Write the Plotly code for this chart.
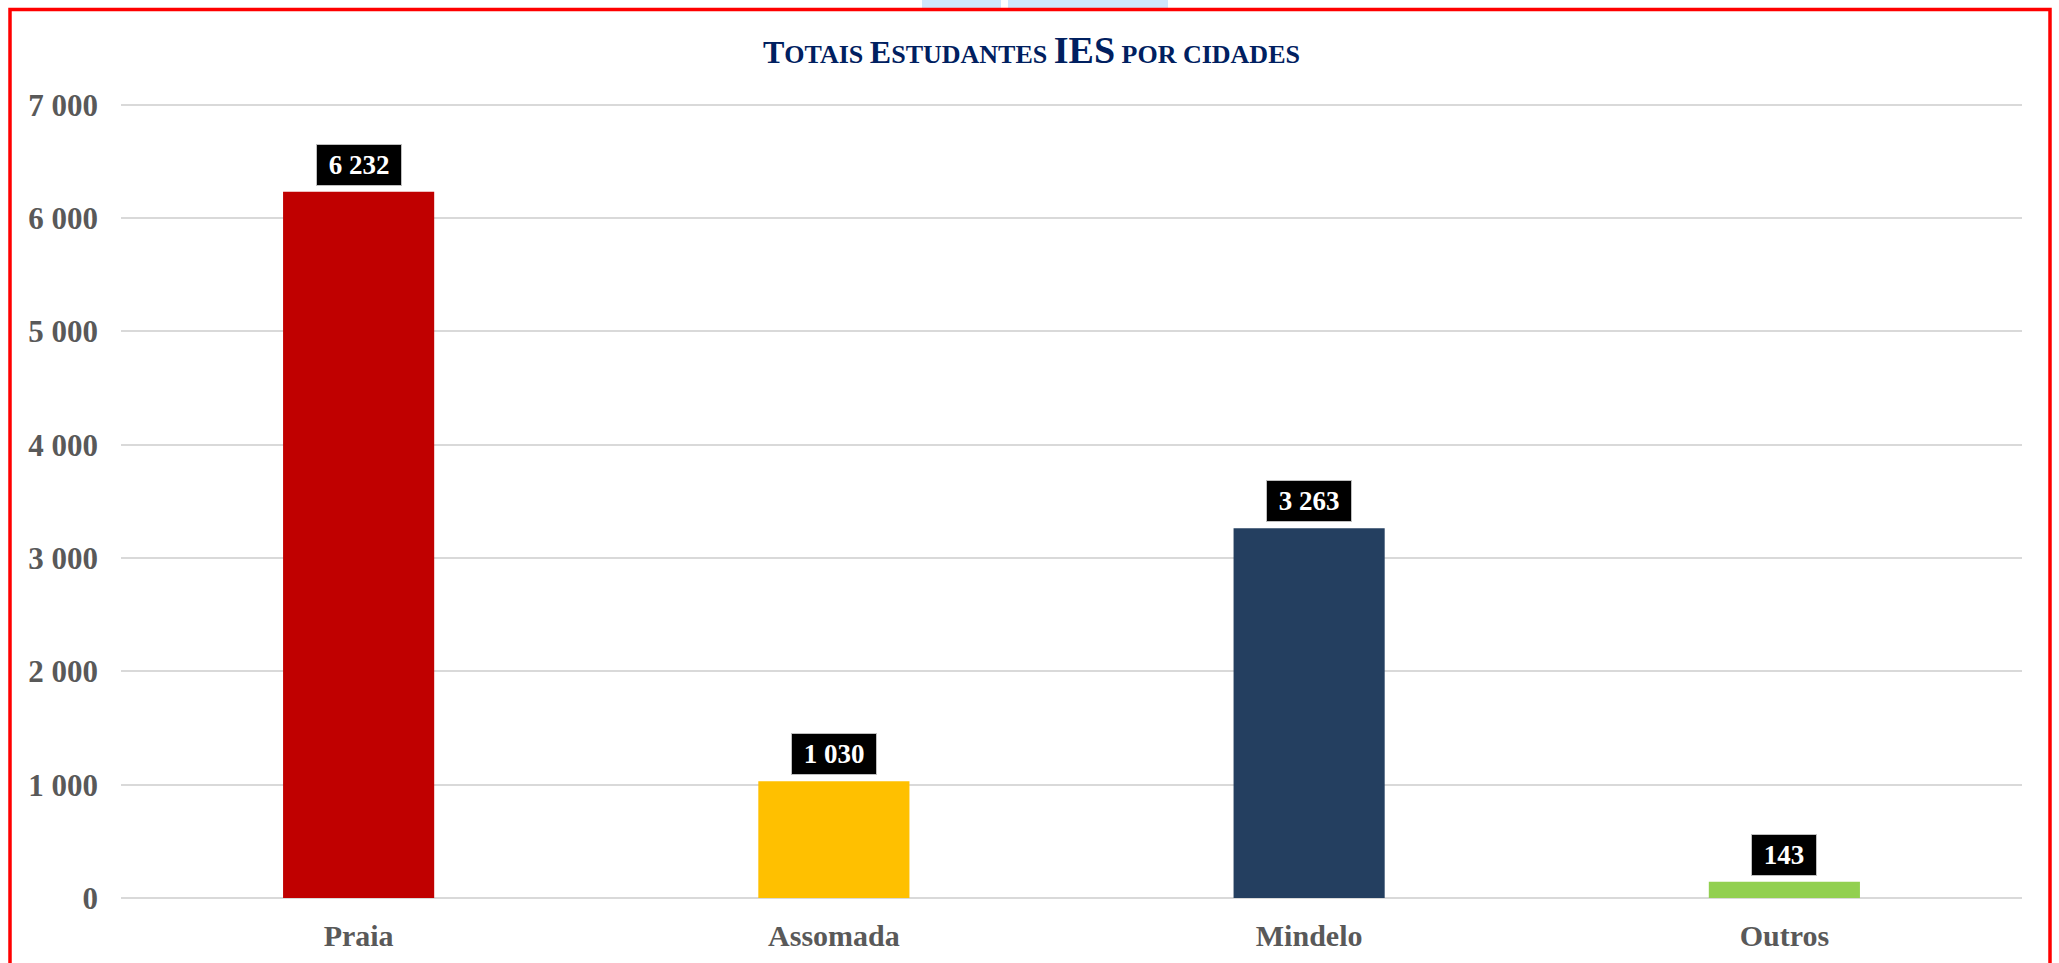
import plotly.graph_objects as go

categories = ["Praia", "Assomada", "Mindelo", "Outros"]
values = [6232, 1030, 3263, 143]
bar_colors = ["#C00000", "#FFC000", "#243F60", "#92D050"]
y_ticks = [0, 1000, 2000, 3000, 4000, 5000, 6000, 7000]

FONT = "Liberation Serif"
W, H = 2059, 963
L, R, T, B = 121, 37, 99, 65
PW, PH = W - L - R, H - T - B


def px_to_paper_x(px):
    return (px - L) / PW


def px_to_paper_y(py):
    return (H - B - py) / PH


fig = go.Figure()
fig.add_trace(go.Bar(
    x=categories,
    y=values,
    marker=dict(color=bar_colors, line=dict(width=0)),
    hoverinfo="skip",
))

annotations = []
for c, v in zip(categories, values):
    label = f"{v:,}".replace(",", " ")
    annotations.append(dict(
        x=c, y=v, xref="x", yref="y",
        text="\u00a0" + label + "\u00a0",
        showarrow=False, yanchor="bottom", yshift=6,
        font=dict(family=FONT, size=27, color="white", weight="bold"),
        bgcolor="black", bordercolor="#bfbfbf", borderwidth=1, borderpad=5,
    ))

title_text = (
    '<span style="font-size:32px">T</span>'
    '<span style="font-size:26px">OTAIS </span>'
    '<span style="font-size:32px">E</span>'
    '<span style="font-size:26px">STUDANTES </span>'
    '<span style="font-size:38px">IES</span>'
    '<span style="font-size:26px"> POR CIDADES</span>'
)
annotations.append(dict(
    text="<b>" + title_text + "</b>",
    xref="paper", yref="paper",
    x=px_to_paper_x(1031), y=px_to_paper_y(50),
    xanchor="center", yanchor="middle", showarrow=False,
    font=dict(family=FONT, size=32, color="#002060"),
))

shapes = [
    # light blue fragment above the frame
    dict(type="rect", xref="paper", yref="paper",
         x0=px_to_paper_x(922), x1=px_to_paper_x(1001),
         y0=px_to_paper_y(8), y1=px_to_paper_y(-2),
         fillcolor="#cfe6fb", line=dict(width=0), layer="below"),
    dict(type="rect", xref="paper", yref="paper",
         x0=px_to_paper_x(1008), x1=px_to_paper_x(1168),
         y0=px_to_paper_y(8), y1=px_to_paper_y(-2),
         fillcolor="#cfe6fb", line=dict(width=0), layer="below"),
    # red frame
    dict(type="rect", xref="paper", yref="paper",
         x0=px_to_paper_x(10), x1=px_to_paper_x(2050),
         y0=px_to_paper_y(990), y1=px_to_paper_y(9.5),
         line=dict(color="#FF0000", width=3.5), fillcolor="rgba(0,0,0,0)"),
]

fig.update_layout(
    width=W, height=H,
    margin=dict(l=L, r=R, t=T, b=B, autoexpand=False),
    paper_bgcolor="white", plot_bgcolor="white",
    bargap=0.682,
    showlegend=False,
    separators=", ",
    annotations=annotations,
    shapes=shapes,
    font=dict(family=FONT, color="#595959"),
)
fig.update_xaxes(
    showgrid=False, showline=False, zeroline=False,
    tickfont=dict(family=FONT, size=30, color="#595959", weight="bold"),
    ticklabelstandoff=17,
)
fig.update_yaxes(
    range=[0, 7050], tickvals=y_ticks, tickformat=",d",
    showgrid=True, gridcolor="#d9d9d9", gridwidth=1.5,
    zeroline=True, zerolinecolor="#d9d9d9", zerolinewidth=1.5,
    showline=False,
    tickfont=dict(family=FONT, size=31, color="#595959", weight="bold"),
    ticklabelstandoff=22,
)

fig.write_html(
    "out.html",
    config={"displayModeBar": False},
    post_script="document.body.style.margin='0px';document.body.style.overflow='hidden';",
)
